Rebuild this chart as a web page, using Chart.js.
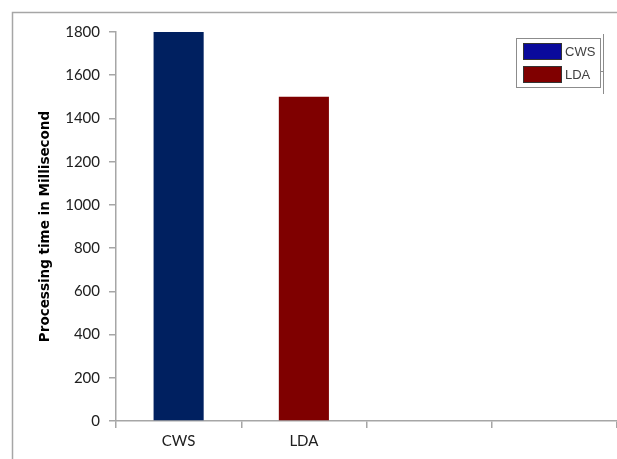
<!DOCTYPE html>
<html>
<head>
<meta charset="utf-8">
<script src="https://cdn.jsdelivr.net/npm/chart.js@4/dist/chart.umd.min.js"></script>
<style>
  html, body { margin: 0; padding: 0; background: #fff; }
  #wrap { width: 617px; height: 459px; }
</style>
</head>
<body>
<div id="wrap"><canvas id="chart" width="617" height="459"></canvas></div>
<script>
const categories = ['CWS', 'LDA', '', ''];
const processingTime = [1800, 1500, null, null];
const barColors = ['#002060', '#7f0000'];
const legendLabels = ['CWS', 'LDA'];
const legendColors = ['#0a0a9c', '#800000'];
const yTicks = [0, 200, 400, 600, 800, 1000, 1200, 1400, 1600, 1800];

const axisGray = '#a6a6a6';
const tickFont = { family: 'Lato', size: 15 };

// frame lines round the plot, plus the boxed legend at top right
const decorations = {
  id: 'decorations',
  beforeDraw(chart) {
    const ctx = chart.ctx;
    ctx.save();
    ctx.strokeStyle = axisGray;
    ctx.lineWidth = 1.5;
    ctx.beginPath();
    ctx.moveTo(12.5, 459);
    ctx.lineTo(12.5, 12.5);
    ctx.lineTo(617, 12.5);
    ctx.stroke();
    ctx.restore();
  },
  afterDraw(chart) {
    const ctx = chart.ctx;
    ctx.save();
    ctx.strokeStyle = '#8c8c8c';
    ctx.lineWidth = 1;
    ctx.strokeRect(516.5, 38.5, 84, 49);
    ctx.beginPath();
    ctx.moveTo(603.5, 34);
    ctx.lineTo(603.5, 94);
    ctx.moveTo(600, 71.5);
    ctx.lineTo(604, 71.5);
    ctx.stroke();
    ctx.font = '13px "Liberation Sans Narrow", "Liberation Sans", sans-serif';
    ctx.textBaseline = 'middle';
    legendLabels.forEach((label, i) => {
      const y = 43 + i * 23;
      ctx.fillStyle = legendColors[i];
      ctx.fillRect(523, y, 39, 17);
      ctx.strokeStyle = '#333';
      ctx.strokeRect(523.5, y + 0.5, 38, 16);
      ctx.fillStyle = '#404040';
      ctx.fillText(label, 565, y + 9);
    });
    ctx.restore();
  }
};

new Chart(document.getElementById('chart'), {
  type: 'bar',
  data: {
    labels: categories,
    datasets: [{
      label: 'Processing time',
      data: processingTime,
      backgroundColor: barColors,
      borderWidth: 0,
      categoryPercentage: 1,
      barPercentage: 0.4
    }]
  },
  options: {
    responsive: false,
    animation: false,
    layout: { padding: { top: 32, left: 0, right: 0, bottom: 0 } },
    plugins: {
      legend: { display: false },
      tooltip: { enabled: false }
    },
    scales: {
      x: {
        offset: true,
        afterFit(scale) { scale.height = 38; },
        grid: {
          offset: true,
          drawOnChartArea: false,
          drawTicks: true,
          tickLength: 7,
          color: axisGray,
          lineWidth: 1.5
        },
        border: { color: axisGray, width: 1.5 },
        ticks: { color: '#202020', font: tickFont, padding: 4, maxRotation: 0 }
      },
      y: {
        min: 0,
        max: 1800,
        afterFit(scale) { scale.width = 116; },
        afterBuildTicks(scale) { scale.ticks = yTicks.map(v => ({ value: v })); },
        grid: {
          drawOnChartArea: false,
          drawTicks: true,
          tickLength: 7,
          color: axisGray,
          lineWidth: 1.5
        },
        border: { color: axisGray, width: 1.5 },
        ticks: {
          color: '#202020',
          font: tickFont,
          padding: 9,
          callback: v => String(v)
        },
        title: {
          display: true,
          text: 'Processing time in Millisecond',
          color: '#000',
          font: { family: 'DejaVu Sans', size: 13.5, weight: 'bold' },
          padding: { top: 37, bottom: 0 }
        }
      }
    }
  },
  plugins: [decorations]
});
</script>
</body>
</html>
